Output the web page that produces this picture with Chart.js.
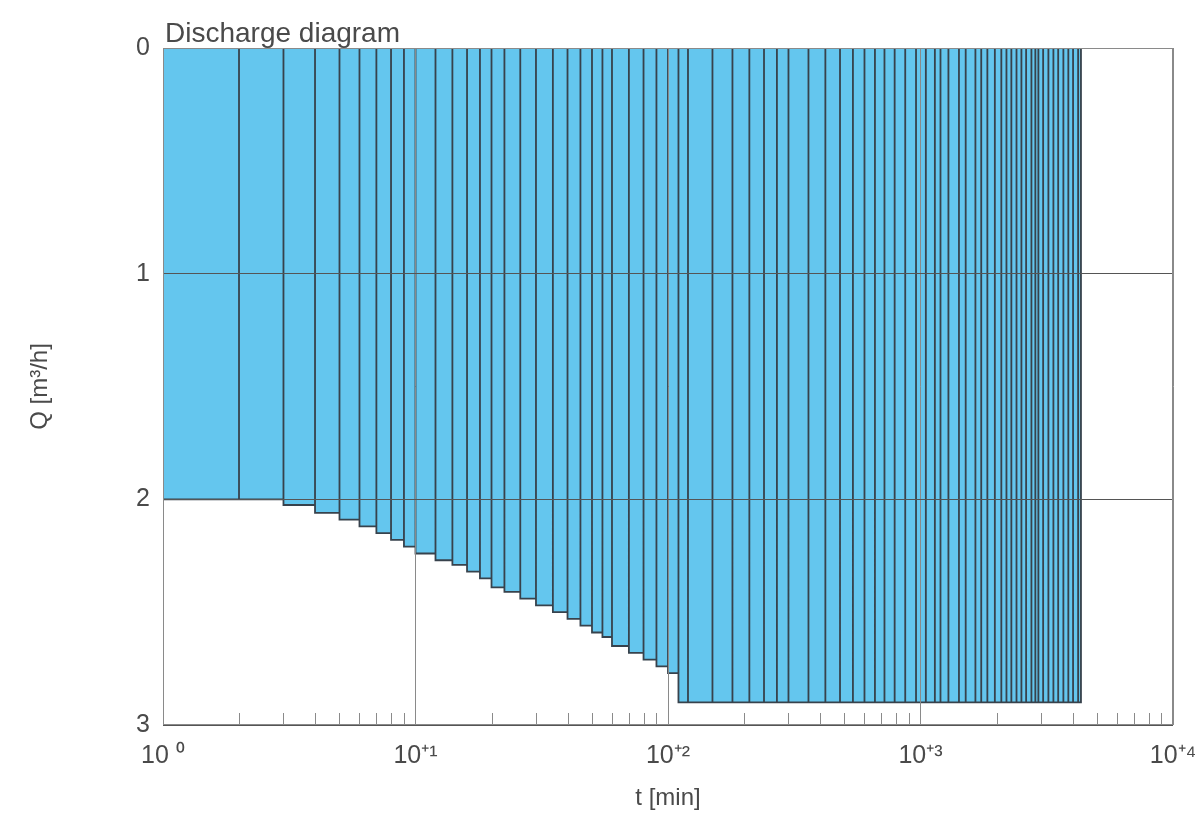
<!DOCTYPE html>
<html>
<head>
<meta charset="utf-8">
<script src="https://cdn.jsdelivr.net/npm/chart.js@4/dist/chart.umd.min.js"></script>
<style>
  html, body { margin: 0; padding: 0; background: #fff; }
  #wrap { width: 1204px; height: 817px; }
</style>
</head>
<body>
<div id="wrap"><canvas id="chart"></canvas></div>
<script>
// time steps [min] - bar edges
const times = [1, 2, 3, 4, 5, 6, 7, 8, 9, 10, 12, 14, 16, 18, 20, 22.5, 26, 30, 35, 40, 45, 50, 55, 60,
  70, 80, 90, 100, 110, 120, 150, 180, 210, 240, 270, 300, 360, 420, 480, 540, 600, 660, 720,
  790, 870, 960, 1050, 1140, 1200, 1290, 1420, 1510, 1650, 1740, 1840, 1970,
  2090, 2190, 2290, 2400, 2510, 2620, 2750, 2850, 2930, 3060, 3210, 3360, 3510, 3680, 3850, 4020, 4210, 4320];

// discharge for each interval [m3/h]
const discharge = [2.0, 2.0, 2.025, 2.06, 2.09, 2.12, 2.15, 2.18, 2.21, 2.24, 2.27, 2.29, 2.32, 2.35,
  2.39, 2.41, 2.44, 2.47, 2.50, 2.53, 2.56, 2.59, 2.61, 2.65, 2.68, 2.71, 2.74, 2.77,
  2.9, 2.9, 2.9, 2.9, 2.9, 2.9, 2.9, 2.9, 2.9, 2.9, 2.9, 2.9, 2.9, 2.9, 2.9,
  2.9, 2.9, 2.9, 2.9, 2.9, 2.9, 2.9, 2.9, 2.9, 2.9, 2.9, 2.9, 2.9, 2.9, 2.9,
  2.9, 2.9, 2.9, 2.9, 2.9, 2.9, 2.9, 2.9, 2.9, 2.9, 2.9, 2.9, 2.9, 2.9, 2.9, 2.9, 2.9];

const xTicks = [1, 10, 100, 1000, 10000];
const xTickLabels = ['10 \u2070', '10\u207A\u00B9', '10\u207A\u00B2', '10\u207A\u00B3', '10\u207A\u2074'];
const yTicks = [0, 1, 2, 3];

// outline of all bars as one path: up the left edge, across, down the right edge
const outline = [];
for (let i = 0; i < discharge.length; i++) {
  outline.push({ x: times[i], y: 0 });
  outline.push({ x: times[i], y: discharge[i] });
  outline.push({ x: times[i + 1], y: discharge[i] });
  outline.push({ x: times[i + 1], y: 0 });
}

const textColor = '#4a4a4a';
const gridColor = '#8a8a8a';
const fontFamily = '"Liberation Sans", Arial, sans-serif';

const framePlugin = {
  id: 'frame',
  afterDraw(chart) {
    const { ctx, chartArea } = chart;
    const x = chart.scales.x;
    ctx.save();
    ctx.strokeStyle = gridColor;
    ctx.lineWidth = 1;
    ctx.strokeRect(chartArea.left + 0.5, chartArea.top + 0.5, chartArea.width - 1, chartArea.height - 1);
    // minor ticks inside, along the bottom
    ctx.beginPath();
    for (let d = 1; d < 10000; d *= 10) {
      for (let m = 2; m <= 9; m++) {
        const px = Math.round(x.getPixelForValue(d * m)) + 0.5;
        ctx.moveTo(px, chartArea.bottom);
        ctx.lineTo(px, chartArea.bottom - 12);
      }
    }
    ctx.stroke();
    // title
    ctx.fillStyle = textColor;
    ctx.font = '28px ' + fontFamily;
    ctx.textAlign = 'left';
    ctx.textBaseline = 'alphabetic';
    ctx.fillText('Discharge diagram', chartArea.left + 2, chartArea.top - 6);
    ctx.restore();
  }
};

new Chart(document.getElementById('chart'), {
  type: 'line',
  data: {
    datasets: [{
      data: outline,
      borderColor: '#37424c',
      borderWidth: 1.8,
      backgroundColor: 'rgb(100,198,238)',
      fill: { value: 0 },
      pointRadius: 0,
      tension: 0
    }]
  },
  options: {
    responsive: true,
    maintainAspectRatio: false,
    animation: false,
    layout: { padding: { top: 48, right: 31, left: 0, bottom: 0 } },
    plugins: { legend: { display: false }, tooltip: { enabled: false } },
    scales: {
      x: {
        type: 'logarithmic',
        min: 1,
        max: 10000,
        afterBuildTicks: (scale) => { scale.ticks = xTicks.map(v => ({ value: v })); },
        afterFit: (scale) => {
          scale.height = 92;
          scale.paddingLeft = 0;
          scale.paddingRight = 0;
        },
        ticks: {
          autoSkip: false,
          maxRotation: 0,
          padding: 16,
          color: textColor,
          font: { size: 25, family: fontFamily },
          callback: (v) => xTickLabels[xTicks.indexOf(v)]
        },
        grid: { color: gridColor, lineWidth: 1, drawTicks: false, z: 1 },
        border: { display: false },
        title: {
          display: true,
          text: 't [min]',
          color: textColor,
          font: { size: 24, family: fontFamily },
          padding: { top: 8 }
        }
      },
      y: {
        reverse: true,
        min: 0,
        max: 3,
        afterBuildTicks: (scale) => { scale.ticks = yTicks.map(v => ({ value: v })); },
        afterFit: (scale) => { scale.width = 163; },
        ticks: {
          padding: 13,
          color: textColor,
          font: { size: 25, family: fontFamily }
        },
        grid: { color: '#555', lineWidth: 1, drawTicks: false, z: 1 },
        border: { display: false },
        title: {
          display: true,
          text: 'Q [m\u00B3/h]',
          color: textColor,
          font: { size: 24, family: fontFamily },
          padding: { top: 26, bottom: 0 }
        }
      }
    }
  },
  plugins: [framePlugin]
});
</script>
</body>
</html>
